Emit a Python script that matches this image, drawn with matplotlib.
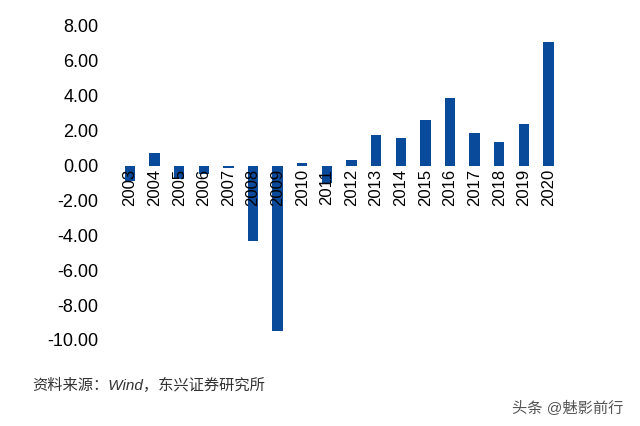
import matplotlib.pyplot as plt

plt.rcParams['font.family'] = ['Liberation Sans', 'Noto Sans CJK SC', 'DejaVu Sans']

years = [str(y) for y in range(2003, 2021)]
values = [-0.9, 0.7, -0.8, -0.5, -0.15, -4.35, -9.5, 0.15, -1.0, 0.3,
          1.75, 1.55, 2.6, 3.85, 1.85, 1.35, 2.4, 7.1]

fig = plt.figure(figsize=(6.4, 4.26), dpi=100)
ax = fig.add_axes([0.18, 0.202, 0.70, 0.737])
x = range(len(years))
ax.bar(x, values, width=0.42, color='#0a4a9a')
ax.set_ylim(-10, 8)
ax.set_xlim(-0.6, len(years) - 0.4)
ticks = [8, 6, 4, 2, 0, -2, -4, -6, -8, -10]
ax.set_yticks(ticks)
ax.set_yticklabels([f"{v:.2f}" for v in ticks], fontsize=13)
ax.tick_params(axis='y', length=0, pad=12)
ax.set_xticks([])
for s in ax.spines.values():
    s.set_visible(False)
for i, y in enumerate(years):
    ax.text(i, -0.2, y, rotation=90, ha='center', va='top', fontsize=12)

fig.text(0.05, 0.085, "资料来源：Wind，东兴证券研究所", fontsize=11, style='italic', color='#333333')
fig.text(0.8, 0.03, "头条 @魅影前行", fontsize=11, color='#555555')
fig.savefig("out.png")
